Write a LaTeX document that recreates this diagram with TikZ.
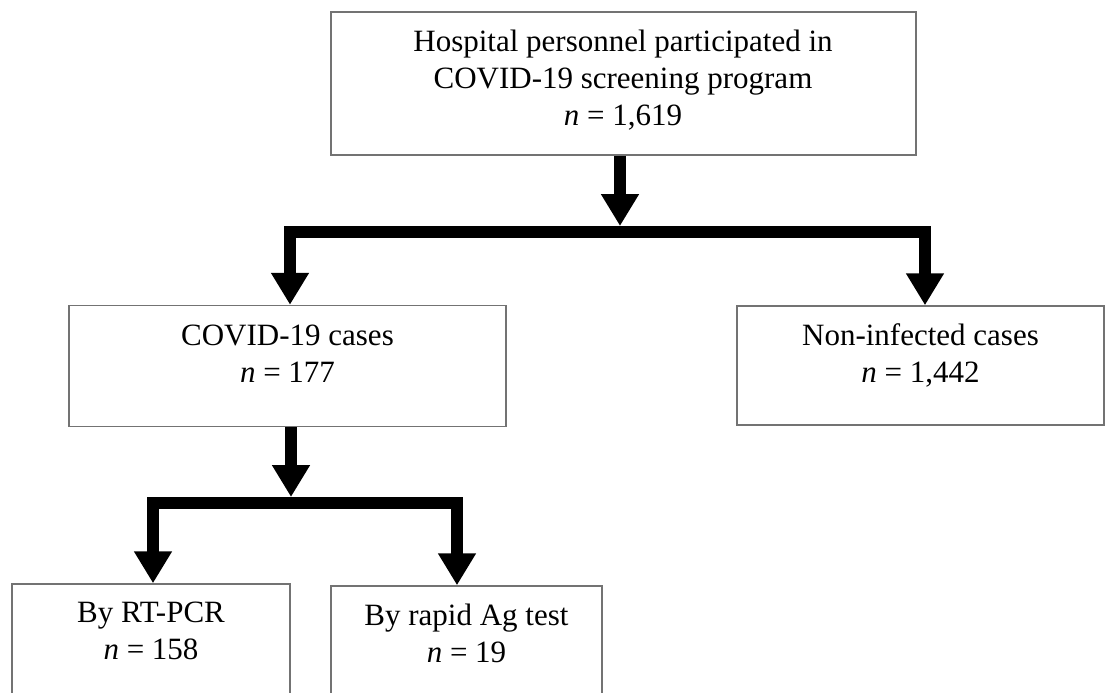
\documentclass[tikz,border=0pt]{standalone}
\usepackage{fontspec}
\setmainfont{Liberation Serif}
\usetikzlibrary{arrows.meta}
\tikzset{
  box/.style={draw=black!55, line width=1.5pt, rectangle, inner sep=0pt, fill=white},
  txt/.style={align=center, inner sep=0pt, font=\fontsize{31}{37}\selectfont},
  fat/.style={line width=12pt, draw=black, line join=miter},
  tip/.style={-{Triangle[width=36pt,length=32pt]}}
}
\begin{document}
\begin{tikzpicture}[x=1pt,y=-1pt]
\useasboundingbox (0,0) rectangle (1106,693);
\clip (0,0) rectangle (1106,693);
\fill[white] (0,0) rectangle (1106,693);
% boxes
\node[box, minimum width=585pt, minimum height=143pt] (top) at (623.5,83.5) {};
\node[box, minimum width=437pt, minimum height=121pt] (cases) at (287.5,366) {};
\node[box, minimum width=367pt, minimum height=119pt] (noninf) at (920.5,365.5) {};
\node[box, minimum width=278pt, minimum height=140pt] (b1) at (151,654) {};
\node[box, minimum width=271pt, minimum height=140pt] (b2) at (466.5,656) {};
% texts
\node[txt] (toptxt) at (623,80) {Hospital personnel participated in\\COVID-19 screening program\\\textit{n} = 1,619};
\node[txt] (casestxt) at (287.5,354) {COVID-19 cases\\\textit{n} = 177};
\node[txt] (noninftxt) at (920.5,355) {Non-infected cases\\\textit{n} = 1,442};
\node[txt] (b1txt) at (151,631) {By RT-PCR\\\textit{n} = 158};
\node[txt] (b2txt) at (466.5,633) {By rapid Ag test\\\textit{n} = 19};
% junctions
\coordinate (j1) at (620,232);
\coordinate (j2) at (291,503);
% connectors
\draw[fat,tip] (top.south -| j1) -- ([yshift=6pt]j1);
\draw[fat,tip] (j1) -| ([xshift=2.5pt]cases.north);
\draw[fat,tip] (j1) -| ([xshift=4.5pt]noninf.north);
\draw[fat,tip] ([xshift=3.5pt]cases.south) -- ([yshift=6pt]j2);
\draw[fat,tip] (j2) -| ([xshift=2pt]b1.north);
\draw[fat,tip] (j2) -| ([xshift=-9.5pt]b2.north);
\end{tikzpicture}
\end{document}
